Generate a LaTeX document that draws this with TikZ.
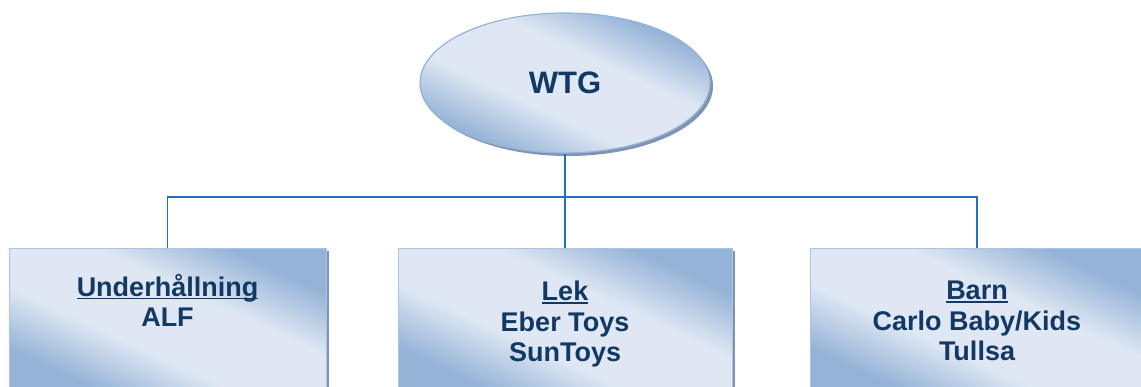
\documentclass[tikz,border=0pt]{standalone}
\usepackage{fontspec}
\setmainfont{Liberation Sans}
\usetikzlibrary{positioning}
\usetikzlibrary{shapes.geometric}
\usetikzlibrary{shadows}

\definecolor{wtgtext}{RGB}{18,56,100}
\definecolor{unitlight}{RGB}{222,231,243}
\definecolor{unitdark}{RGB}{149,179,215}
\definecolor{unitedge}{RGB}{170,196,228}
\definecolor{unitshadow}{RGB}{128,148,178}
\definecolor{linkblue}{RGB}{30,112,192}

\pgfdeclareverticalshading{unitfill}{100bp}{color(0bp)=(unitdark); color(27bp)=(unitdark);
  color(41bp)=(unitlight); color(59bp)=(unitlight); color(73bp)=(unitdark); color(100bp)=(unitdark)}

\newcommand{\uword}[1]{\setbox0\hbox{#1}\rlap{\rule[-3pt]{\wd0}{1.6pt}}\box0}

\tikzset{
  fillshade/.style={shade,shading=unitfill,shading angle=-25},
  castshadow/.style={drop shadow={shadow xshift=3pt,shadow yshift=-3pt,fill=unitshadow,opacity=1}},
  unit/.style={rectangle,draw=unitedge,line width=1pt,fillshade,castshadow,anchor=north,minimum height=145pt,inner sep=0pt},
  unittext/.style={align=center,inner sep=0pt,text=wtgtext,font=\bfseries\fontsize{27}{30.5}\selectfont},
  link/.style={draw=linkblue,line width=1.5pt}
}

\begin{document}
\begin{tikzpicture}[x=1pt,y=1pt]
  \useasboundingbox (0,0) rectangle (1141,-387);
  \node[ellipse,draw=unitdark,line width=1.2pt,fillshade,castshadow,minimum width=290pt,minimum height=140pt,inner sep=0pt,
    text=wtgtext,font=\bfseries\fontsize{31}{36}\selectfont] (wtg) at (565,-83) {WTG};
  % three units
  \node[unit,minimum width=317pt] (ufbox) at (167.5,-248) {};
  \node[unit,minimum width=334pt] (lekbox) at (565,-248) {};
  \node[unit,minimum width=334pt] (barnbox) at (977,-248) {};
  \node[unittext,below=26pt of ufbox.north] (uftext) {\uword{Underhållning}\\ALF};
  \node[unittext,below=33pt of lekbox.north] (lektext) {\uword{Lek}\\Eber Toys\\SunToys};
  \node[unittext,below=33pt of barnbox.north] (barntext) {\uword{Barn}\\Carlo Baby/Kids\\Tullsa};
  % connectors
  \coordinate (hub) at (wtg.south |- 0,-197);
  \draw[link] (wtg.south) -- (hub) -- (lekbox.north);
  \draw[link] (hub) -| (ufbox.north);
  \draw[link] (hub) -| (barnbox.north);
\end{tikzpicture}
\end{document}
